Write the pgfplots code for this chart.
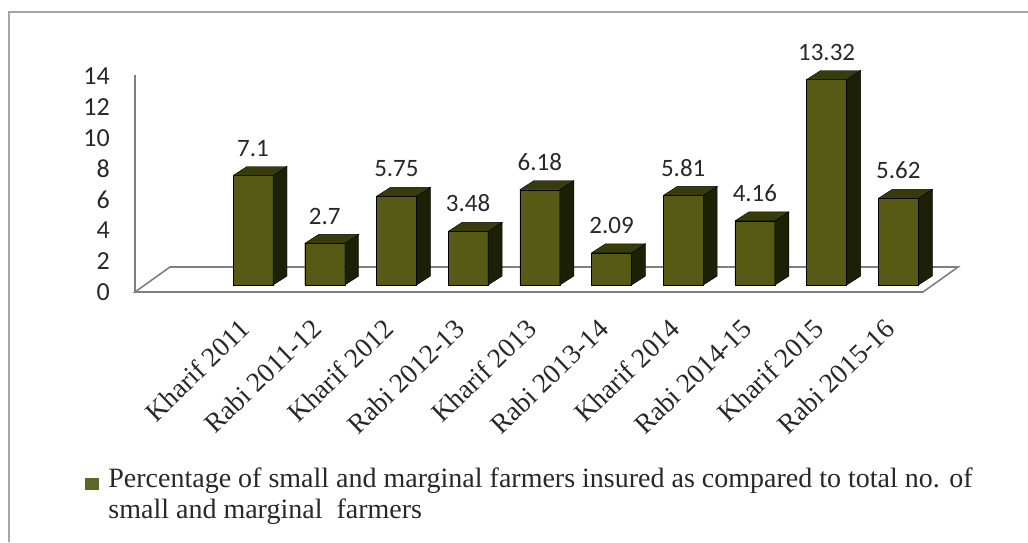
\documentclass[border=0pt]{standalone}
\usepackage{pgfplots}
\usepackage{pgfplotstable}
\pgfplotsset{compat=1.18}
\usepackage{fontspec}
\setmainfont{Liberation Serif}
\newfontfamily\carlito{Carlito}
\definecolor{frontc}{RGB}{86,90,20}
\definecolor{topc}{RGB}{56,60,12}
\definecolor{sidec}{RGB}{28,32,6}
\definecolor{legc}{RGB}{92,104,38}
\definecolor{floorc}{RGB}{128,128,128}
\definecolor{txtc}{RGB}{40,40,40}
\pgfplotstableread{
x v
0 7.1
1 2.7
2 5.75
3 3.48
4 6.18
5 2.09
6 5.81
7 4.16
8 13.32
9 5.62
}\bardata
\begin{document}
\begin{tikzpicture}
\useasboundingbox (0,0) rectangle (1028pt,542pt);
\begin{axis}[
  at={(135pt,250pt)}, anchor=south west,
  x=71.7pt, y=15.43pt,
  xmin=-1.646, xmax=9.9, ymin=-0.45, ymax=14,
  clip=false,
  axis x line*=bottom, axis y line*=left,
  axis line style={draw=none},
  major tick length=0pt,
  xtick={0,...,9},
  xticklabels={Kharif 2011, Rabi 2011-12, Kharif 2012, Rabi 2012-13, Kharif 2013, Rabi 2013-14, Kharif 2014, Rabi 2014-15, Kharif 2015, Rabi 2015-16},
  xticklabel style={font=\fontsize{27.5}{32}\selectfont, text=txtc, inner sep=0pt, xshift=-8pt, yshift=-32pt, rotate=44, anchor=east},
  ytick={0,2,...,14},
  yticklabel style={font=\carlito\fontsize{26}{30}\selectfont, text=txtc, inner sep=0pt, xshift=-25pt, yshift=-7pt, anchor=east},
  /pgf/number format/assume math mode=true,
  legend style={draw=none, fill=none, at={(-0.0604,-0.789)}, anchor=north west,
    inner sep=0pt, outer sep=0pt, column sep=10pt,
    font=\fontsize{28}{31}\selectfont, text=txtc,
    nodes={inner sep=0pt, outer sep=0pt}, cells={align=left}},
  legend cell align=left,
]
\draw[floorc, line width=1.6pt] (axis cs:-1.646,-0.45) -- (axis cs:9.344,-0.45) -- (axis cs:9.833,1.17) -- (axis cs:-1.158,1.17) -- cycle;
\draw[floorc, line width=1.6pt] (axis cs:-1.646,-0.45) -- (axis cs:-1.646,13.6);
\addplot[ybar, bar width=0.558, fill=frontc, draw=black, line width=0.4pt,
  nodes near coords,
  nodes near coords style={font=\carlito\fontsize{25}{30}\selectfont, text=txtc, anchor=south, inner sep=0pt, yshift=19pt},
  legend image code/.code={\fill[legc] (0pt,5pt) rectangle (13pt,16pt);}]
  table[x=x, y=v] {\bardata};
\addlegendentry{Percentage of small and marginal farmers insured as compared to total no. of\\small and marginal\ \ farmers}
\pgfplotsinvokeforeach{0,...,9}{
  \pgfplotstablegetelem{#1}{v}\of\bardata
  \let\v\pgfplotsretval
  \pgfmathsetmacro\xa{#1+0.279}
  \pgfmathsetmacro\xb{#1+0.279+0.195}
  \pgfmathsetmacro\xc{#1-0.279}
  \pgfmathsetmacro\xd{#1-0.279+0.195}
  \pgfmathsetmacro\yt{\v+0.583}
  \edef\temp{\noexpand\addplot[fill=sidec, draw=black, line width=0.4pt, forget plot] coordinates {(\xa,0) (\xb,0.583) (\xb,\yt) (\xa,\v) (\xa,0)};
    \noexpand\addplot[fill=topc, draw=black, line width=0.4pt, forget plot] coordinates {(\xc,\v) (\xd,\yt) (\xb,\yt) (\xa,\v) (\xc,\v)};}
  \temp
}
\end{axis}
\draw[gray!70, line width=1.2pt] (9pt,0pt) -- (9pt,530pt) -- (1028pt,530pt);
\end{tikzpicture}
\end{document}
